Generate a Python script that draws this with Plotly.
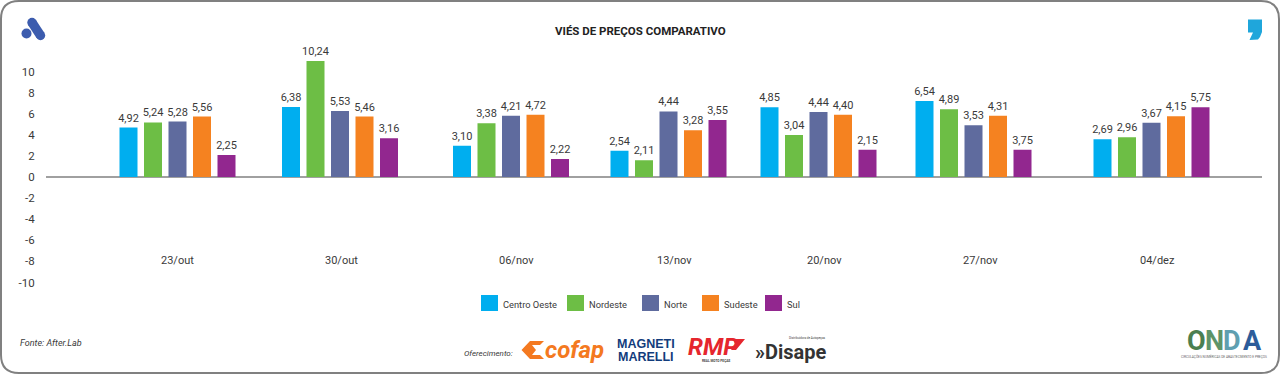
import plotly.graph_objects as go

W, H = 1280, 374

# ---- data -------------------------------------------------------------
weeks = ["23/out", "30/out", "06/nov", "13/nov", "20/nov", "27/nov", "04/dez"]
series_names = ["Centro Oeste", "Nordeste", "Norte", "Sudeste", "Sul"]

# Bar heights as drawn in the picture (they differ from the printed labels)
centro_oeste = [4.69, 6.63, 2.97, 2.50, 6.60, 7.20, 3.57]
nordeste = [5.17, 11.00, 5.09, 1.58, 3.98, 6.41, 3.76]
norte = [5.26, 6.26, 5.81, 6.22, 6.16, 4.90, 5.15]
sudeste = [5.73, 5.73, 5.91, 4.42, 5.91, 5.81, 5.75]
sul = [2.09, 3.67, 1.71, 5.40, 2.59, 2.59, 6.60]

# Printed value labels
centro_oeste_labels = ["4,92", "6,38", "3,10", "2,54", "4,85", "6,54", "2,69"]
nordeste_labels = ["5,24", "10,24", "3,38", "2,11", "3,04", "4,89", "2,96"]
norte_labels = ["5,28", "5,53", "4,21", "4,44", "4,44", "3,53", "3,67"]
sudeste_labels = ["5,56", "5,46", "4,72", "3,28", "4,40", "4,31", "4,15"]
sul_labels = ["2,25", "3,16", "2,22", "3,55", "2,15", "3,75", "5,75"]

y_ticks = [-10, -8, -6, -4, -2, 0, 2, 4, 6, 8, 10]

# ---- style / layout ----------------------------------------------------
colors = ["#00AEEF", "#6DBE45", "#5F6B9E", "#F58220", "#92278F"]
FONT = "Roboto"
TEXT = "#3a3a3a"
UNIT_PX = 10.55
PLOT_L, PLOT_R, PLOT_B = 46, 1262, 282.5
PLOT_T = 71.5 - 2 * UNIT_PX   # axis runs to 12 (no tick) so the tallest bar fits
CAT_PX = 162.0               # px per category
BAR_PX, SLOT_PX = 18.0, 24.5
# the source spreads its groups slightly unevenly (px, layout only)
group_nudge = [0, 0.5, 9.5, 5, -7, -14, 2]
label_nudge = [0, 1.5, 14.5, 10.5, -1.5, -7.5, 7.5]
legend_x = [481, 567, 642, 702, 765]   # swatch left edges


def px(x):
    return x / W


def py(y):
    return 1 - y / H


fig = go.Figure()

values = [centro_oeste, nordeste, norte, sudeste, sul]
labels = [centro_oeste_labels, nordeste_labels, norte_labels, sudeste_labels, sul_labels]

for slot, (name, vals, labs, col) in enumerate(zip(series_names, values, labels, colors)):
    fig.add_trace(go.Bar(
        x=weeks, y=vals, name=name, text=labs, showlegend=False,
        marker=dict(color=col, line=dict(width=0)),
        width=BAR_PX / CAT_PX,
        offset=[((slot - 2) * SLOT_PX - BAR_PX / 2 + n) / CAT_PX for n in group_nudge],
        textposition="outside", textangle=0, cliponaxis=False, constraintext="none",
        textfont=dict(family=FONT, size=11, color=TEXT),
        hovertemplate=name + " %{x}: %{text}<extra></extra>",
    ))

ann = []
for wk, n in zip(weeks, label_nudge):
    ann.append(dict(x=wk, y=-7.95, xref="x", yref="y", text=wk, showarrow=False, xshift=n,
                    font=dict(family=FONT, size=11, color=TEXT)))


def note(x, y, text, size, color=TEXT, anchor="left", family=FONT):
    ann.append(dict(x=px(x), y=py(y), xref="paper", yref="paper", text=text, showarrow=False,
                    xanchor=anchor, yanchor="middle", borderpad=0, borderwidth=0,
                    font=dict(family=family, size=size, color=color)))


note(640, 31, "<b>VIÉS DE PREÇOS COMPARATIVO</b>", 11.5, "#222222", "center")
note(20, 343, "<i>Fonte: After.Lab</i>", 9)
note(464, 353, "<i>Oferecimento:</i>", 8)
# brand marks
note(545, 350, "<b><i>cofap</i></b>", 24, "#F47920")
note(646, 344, "<b>MAGNETI</b>", 12.5, "#123C7C", "center", "Liberation Sans")
note(646, 357, "<b>MARELLI</b>", 12.5, "#123C7C", "center", "Liberation Sans")
note(688, 347, "<b><i>RMP</i></b>", 24, "#E5262E")
note(716, 361, "<b>REAL MOTO PEÇAS</b>", 3.2, "#444444", "center")
note(755, 352, "<b>»Disape</b>", 20, "#333333")
note(807, 338, "Distribuidora de Autopeças", 3, "#444444", "center")
for x, ch, col in [(1196, "O", "#4B7F50"), (1214, "N", "#5E9468"),
                   (1232, "D", "#5F9FB0"), (1252, "A", "#2C5C9A")]:
    note(x, 341, "<b>" + ch + "</b>", 27, col, "center")
note(1224, 356, "CIRCULAÇÕES NUMÉRICAS DE ABASTECIMENTO E PREÇOS", 3.2, "#666666", "center")

shapes = []
# outer rounded frame
r = 18
l_, t_, r_, b_ = 1, 1, W - 1, H - 1
frame = (f"M{px(l_ + r)},{py(t_)} L{px(r_ - r)},{py(t_)} Q{px(r_)},{py(t_)} {px(r_)},{py(t_ + r)} "
         f"L{px(r_)},{py(b_ - r)} Q{px(r_)},{py(b_)} {px(r_ - r)},{py(b_)} "
         f"L{px(l_ + r)},{py(b_)} Q{px(l_)},{py(b_)} {px(l_)},{py(b_ - r)} "
         f"L{px(l_)},{py(t_ + r)} Q{px(l_)},{py(t_)} {px(l_ + r)},{py(t_)} Z")
shapes.append(dict(type="path", xref="paper", yref="paper", path=frame,
                   line=dict(color="#808080", width=2)))

# legend keys
for lx, name, col in zip(legend_x, series_names, colors):
    shapes.append(dict(type="rect", xref="paper", yref="paper", x0=px(lx), x1=px(lx + 17),
                       y0=py(311), y1=py(295), fillcolor=col, line=dict(width=0)))
    note(lx + 22, 304, name, 9.3, TEXT)


def disc(cx, cy, rad, col):
    shapes.append(dict(type="circle", xref="paper", yref="paper", x0=px(cx - rad), x1=px(cx + rad),
                       y0=py(cy + rad), y1=py(cy - rad), fillcolor=col, line=dict(width=0)))


def poly(points, col):
    d = "M" + " L".join(f"{px(a)},{py(b)}" for a, b in points) + " Z"
    shapes.append(dict(type="path", xref="paper", yref="paper", path=d, fillcolor=col,
                       line=dict(width=0)))


# "A" logo
BLUE = "#3C5CAE"
disc(26.5, 33.5, 5, BLUE)
disc(32, 22.5, 4.7, BLUE)
disc(40.5, 35.5, 4.7, BLUE)
poly([(35.95, 20), (44.45, 33), (36.55, 38), (28.05, 25)], BLUE)
# comma logo
poly([(1248, 19.5), (1262, 19.5), (1262, 32), (1260, 37), (1258, 39.5), (1249.5, 40),
      (1253, 32.5), (1248, 32.5)], "#1FA6DB")
# cofap emblem
poly([(521.5, 350), (530, 341), (544, 341), (540, 345), (532, 345), (536, 350), (532, 355),
      (540, 355), (544, 359), (530, 359)], "#F47920")
# RMP wing
poly([(733, 339), (745, 339), (736, 350), (731, 350), (735, 344)], "#E5262E")

fig.update_layout(
    width=W, height=H, autosize=False,
    margin=dict(l=0, r=0, t=0, b=0, autoexpand=False),
    paper_bgcolor="white", plot_bgcolor="white",
    barmode="overlay",
    showlegend=False,
    annotations=ann, shapes=shapes,
    xaxis=dict(type="category", categoryorder="array", categoryarray=weeks,
               domain=[px(PLOT_L), px(PLOT_R)],
               range=[(PLOT_L - 177.5) / CAT_PX, (PLOT_R - 177.5) / CAT_PX],
               showticklabels=False, showgrid=False, zeroline=False, showline=False, ticks=""),
    yaxis=dict(domain=[py(PLOT_B), py(PLOT_T)], range=[-10, 12], tickmode="array",
               tickvals=y_ticks, ticktext=[str(v) for v in y_ticks],
               showgrid=False, zeroline=True, zerolinecolor="#A0A0A0", zerolinewidth=1.5,
               showline=False, ticks="outside", ticklen=8, tickcolor="rgba(0,0,0,0)",
               tickfont=dict(family=FONT, size=11.5, color=TEXT)),
    font=dict(family=FONT),
)

# remove the browser's default page margin so that the figure starts at the window corner
post = ("document.body.style.margin='0';document.documentElement.style.overflow='hidden';"
        "var g=document.getElementById('{plot_id}');"
        "g.style.position='fixed';g.style.left='0';g.style.top='0';")
fig.write_html("out.html", post_script=post, config={"displayModeBar": False})
